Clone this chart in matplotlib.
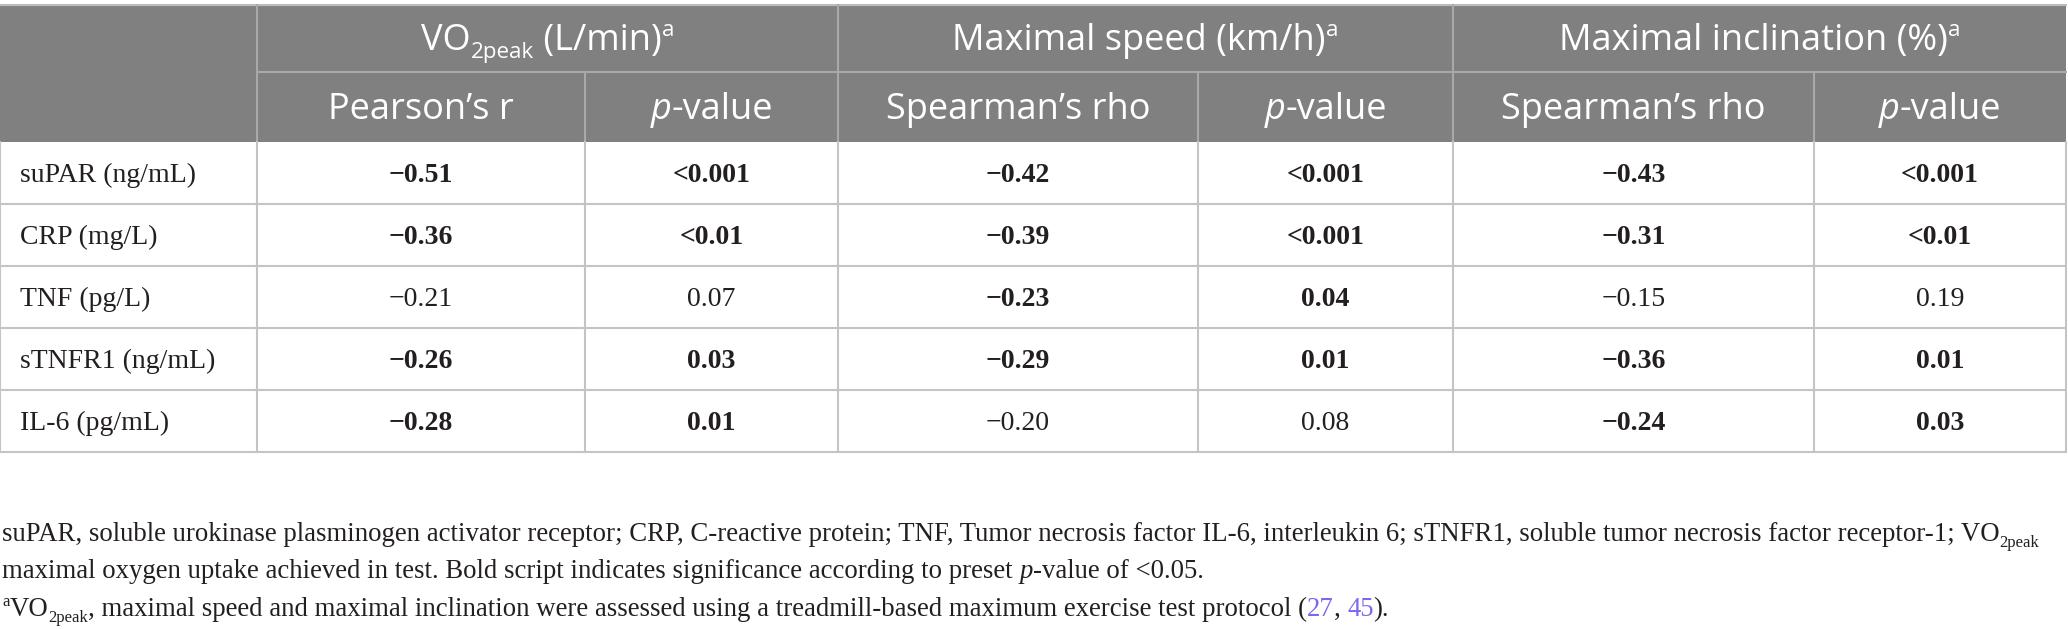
import matplotlib
matplotlib.use('Agg')
import matplotlib.pyplot as plt
from matplotlib.patches import Rectangle

# table content
markers = ['suPAR (ng/mL)', 'CRP (mg/L)', 'TNF (pg/L)', 'sTNFR1 (ng/mL)', 'IL-6 (pg/mL)']
vo2_r = [-0.51, -0.36, -0.21, -0.26, -0.28]
vo2_p = ['<0.001', '<0.01', '0.07', '0.03', '0.01']
speed_rho = [-0.42, -0.39, -0.23, -0.29, -0.20]
speed_p = ['<0.001', '<0.001', '0.04', '0.01', '0.08']
incl_rho = [-0.43, -0.31, -0.15, -0.36, -0.24]
incl_p = ['<0.001', '<0.01', '0.19', '0.01', '0.03']

group_titles = [
    [('VO', ''), ('2peak', 'sub'), (' (L/min)', ''), ('a', 'sup')],
    [('Maximal speed (km/h)', ''), ('a', 'sup')],
    [('Maximal inclination (%)', ''), ('a', 'sup')],
]
stat_names = ['Pearson\u2019s r', 'Spearman\u2019s rho', 'Spearman\u2019s rho']

notes = [
    [('suPAR, soluble urokinase plasminogen activator receptor; CRP, C-reactive protein; TNF, Tumor necrosis factor '
      'IL-6, interleukin 6; sTNFR1, soluble tumor necrosis factor receptor-1; VO', ''), ('2peak', 'sub')],
    [('maximal oxygen uptake achieved in test. Bold script indicates significance according to preset ', ''),
     ('p', 'it'), ('-value of <0.05.', '')],
    [('a', 'sup'), ('VO', ''), ('2peak', 'sub'),
     (', maximal speed and maximal inclination were assessed using a treadmill-based maximum exercise test protocol (', ''),
     ('27', 'link'), (', ', ''), ('45', 'link'), (').', '')],
]

W, H = 2068, 629
fig = plt.figure(figsize=(W / 100, H / 100), dpi=100)
ax = fig.add_axes([0, 0, 1, 1])
ax.set_xlim(0, W)
ax.set_ylim(H, 0)
ax.axis('off')
renderer = fig.canvas.get_renderer()

HEAD_BG = '#808080'
HEAD_LINE = '#a9a9a9'
GRID = '#c4c4c4'
INK = '#231f20'
LINK = '#7b68ee'
SANS = 'Open Sans'
SERIF = 'Liberation Serif'


def text_width(s, **kw):
    # measure with sentinels so leading/trailing spaces count
    a = ax.text(0, 0, 'x' + s + 'x', **kw)
    b = ax.text(0, 0, 'xx', **kw)
    w = a.get_window_extent(renderer).width - b.get_window_extent(renderer).width
    a.remove()
    b.remove()
    return w


def draw_runs(x, y, runs, size, family, color, ha='left', weight='normal'):
    items = []
    for s, kind in runs:
        fs = size * 0.62 if kind in ('sub', 'sup') else size
        kw = dict(fontsize=fs, family=family, weight=weight,
                  style='italic' if kind == 'it' else 'normal',
                  color=LINK if kind == 'link' else color)
        dy = 0
        if kind == 'sub':
            dy = size / 72 * 100 * 0.22
        elif kind == 'sup':
            dy = -size / 72 * 100 * 0.38
        items.append((s, kw, dy, text_width(s, **kw)))
    total = sum(it[3] for it in items)
    cx = x - total / 2 if ha == 'center' else x
    for s, kw, dy, w in items:
        ax.text(cx, y + dy, s, va='baseline', ha='left', **kw)
        cx += w


col_edges = [0, 257, 585, 838, 1198, 1453, 1814, 2066]
head_y = [5, 72, 142]
row_edges = [142, 204, 266, 328, 390, 452]

# header block
ax.add_patch(Rectangle((col_edges[0], head_y[0]), col_edges[-1] - col_edges[0], head_y[2] - head_y[0],
                       facecolor=HEAD_BG, edgecolor='none', zorder=0))
ax.plot([col_edges[0], col_edges[-1]], [head_y[0], head_y[0]], color='#bdbdbd', lw=1.5)
ax.plot([col_edges[1], col_edges[-1]], [head_y[1], head_y[1]], color=HEAD_LINE, lw=1.5)
for i, xe in enumerate(col_edges[1:-1], start=1):
    top = head_y[0] if i % 2 == 1 else head_y[1]
    ax.plot([xe, xe], [top, head_y[2]], color=HEAD_LINE, lw=1.5)

for g, runs in enumerate(group_titles):
    xc = (col_edges[1 + 2 * g] + col_edges[3 + 2 * g]) / 2
    draw_runs(xc, 50, runs, 26, SANS, 'white', ha='center')
    xs = (col_edges[1 + 2 * g] + col_edges[2 + 2 * g]) / 2
    draw_runs(xs, 119, [(stat_names[g], '')], 26, SANS, 'white', ha='center')
    xp = (col_edges[2 + 2 * g] + col_edges[3 + 2 * g]) / 2
    draw_runs(xp, 119, [('p', 'it'), ('-value', '')], 26, SANS, 'white', ha='center')

# body grid
for ye in row_edges[1:]:
    ax.plot([col_edges[0], col_edges[-1]], [ye, ye], color=GRID, lw=1.5)
for xe in col_edges:
    ax.plot([xe, xe], [row_edges[0], row_edges[-1]], color=GRID, lw=1.5)


def significant(p):
    return p.startswith('<') or float(p) < 0.05


columns = [(vo2_r, vo2_p), (speed_rho, speed_p), (incl_rho, incl_p)]
for r, name in enumerate(markers):
    yb = (row_edges[r] + row_edges[r + 1]) / 2 + 9
    ax.text(20, yb, name, fontsize=20, family=SERIF, color=INK, va='baseline', ha='left')
    for g, (coef, pval) in enumerate(columns):
        wt = 'bold' if significant(pval[r]) else 'normal'
        xs = (col_edges[1 + 2 * g] + col_edges[2 + 2 * g]) / 2
        xp = (col_edges[2 + 2 * g] + col_edges[3 + 2 * g]) / 2
        ctext = ('\u2212' if coef[r] < 0 else '') + f'{abs(coef[r]):.2f}'
        ax.text(xs, yb, ctext, fontsize=20, family=SERIF, weight=wt, color=INK, va='baseline', ha='center')
        ax.text(xp, yb, pval[r], fontsize=20, family=SERIF, weight=wt, color=INK, va='baseline', ha='center')

# footnotes
for i, runs in enumerate(notes):
    draw_runs(2, 541 + 37.5 * i, runs, 19.3, SERIF, INK)

fig.savefig('out.png', dpi=100)
